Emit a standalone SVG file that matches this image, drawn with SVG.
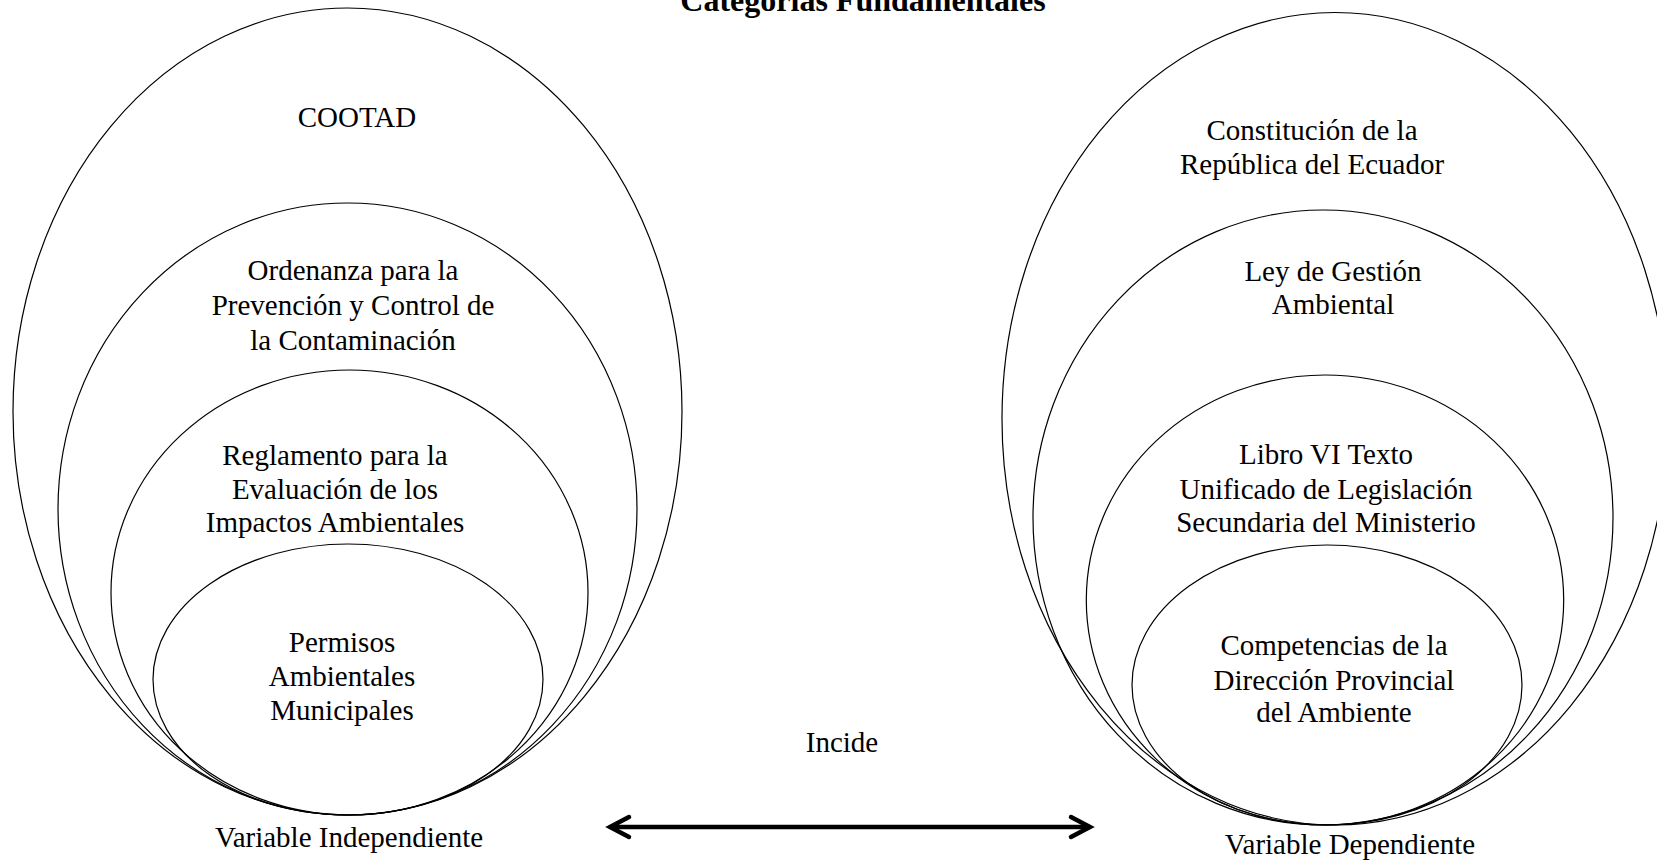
<svg xmlns="http://www.w3.org/2000/svg" width="1657" height="862" viewBox="0 0 1657 862">
<style>
.e{fill:none;stroke:#000;stroke-width:1.2}
.t{font-family:"Liberation Serif","Times New Roman",serif;font-size:29px;fill:#000;text-anchor:middle}
.title{font-family:"Liberation Serif","Times New Roman",serif;font-size:32px;font-weight:bold;fill:#000;text-anchor:middle}
.arr{fill:none;stroke:#000;stroke-width:4.5;stroke-linecap:round;stroke-linejoin:miter}
</style>
<rect width="1657" height="862" fill="#fff"/>
<text class="title" x="863" y="11">Categorías Fundamentales</text>

<g id="left-cootad">
<ellipse class="e" cx="347.5" cy="411.5" rx="334.5" ry="403.5"/>
<text class="t" x="357" y="127">COOTAD</text>
</g>
<g id="left-ordenanza">
<ellipse class="e" cx="347.5" cy="509" rx="289.5" ry="306"/>
<text class="t" x="353" y="280">Ordenanza para la</text>
<text class="t" x="353" y="315">Prevención y Control de</text>
<text class="t" x="353" y="350">la Contaminación</text>
</g>
<g id="left-reglamento">
<ellipse class="e" cx="349.5" cy="592.5" rx="238.5" ry="222.5"/>
<text class="t" x="335" y="465">Reglamento para la</text>
<text class="t" x="335" y="499">Evaluación de los</text>
<text class="t" x="335" y="532">Impactos Ambientales</text>
</g>
<g id="left-permisos">
<ellipse class="e" cx="348" cy="679.5" rx="195" ry="135.5"/>
<text class="t" x="342" y="652">Permisos</text>
<text class="t" x="342" y="686">Ambientales</text>
<text class="t" x="342" y="720">Municipales</text>
</g>
<g id="label-independiente">
<text class="t" x="349" y="847">Variable Independiente</text>
</g>

<g id="right-constitucion">
<ellipse class="e" cx="1335" cy="418.75" rx="333" ry="406.25"/>
<text class="t" x="1312" y="140">Constitución de la</text>
<text class="t" x="1312" y="174">República del Ecuador</text>
</g>
<g id="right-ley">
<ellipse class="e" cx="1323" cy="517.5" rx="290" ry="307.5"/>
<text class="t" x="1333" y="281">Ley de Gestión</text>
<text class="t" x="1333" y="314">Ambiental</text>
</g>
<g id="right-libro">
<ellipse class="e" cx="1325" cy="600" rx="238.7" ry="225"/>
<text class="t" x="1326" y="464">Libro VI Texto</text>
<text class="t" x="1326" y="499">Unificado de Legislación</text>
<text class="t" x="1326" y="532">Secundaria del Ministerio</text>
</g>
<g id="right-competencias">
<ellipse class="e" cx="1327" cy="685" rx="195" ry="140"/>
<text class="t" x="1334" y="655">Competencias de la</text>
<text class="t" x="1334" y="690">Dirección Provincial</text>
<text class="t" x="1334" y="722">del Ambiente</text>
</g>
<g id="label-dependiente">
<text class="t" x="1350" y="854">Variable Dependiente</text>
</g>

<g id="connectors">
<line class="arr" x1="611" y1="827" x2="1089" y2="827"/>
<polyline class="arr" points="629,817 610,827 629,837"/>
<polyline class="arr" points="1071,817 1090,827 1071,837"/>
<text class="t" x="842" y="752">Incide</text>
</g>
</svg>
